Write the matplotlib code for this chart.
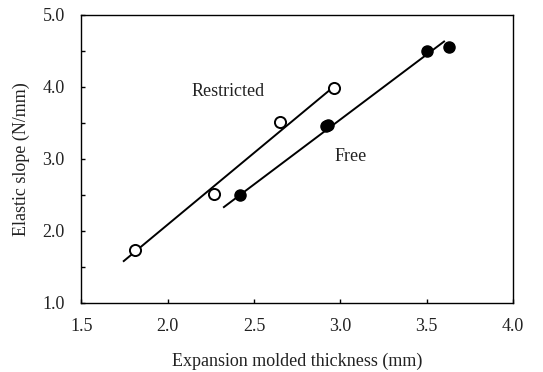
import matplotlib
matplotlib.use("Agg")
import matplotlib.pyplot as plt
from matplotlib.ticker import MultipleLocator

# Restricted (open circles)
restricted_x = [1.81, 2.27, 2.65, 2.96]
restricted_y = [1.73, 2.51, 3.51, 3.99]
restricted_line_x = [1.745, 2.94]
restricted_line_y = [1.58, 3.96]

# Free (filled circles)
free_x = [2.42, 2.915, 2.925, 3.50, 3.63]
free_y = [2.50, 3.45, 3.47, 4.50, 4.56]
free_line_x = [2.325, 3.60]
free_line_y = [2.33, 4.63]

plt.rcParams['font.family'] = ['Liberation Serif', 'DejaVu Serif']
fs = 13
txt = "#222222"

fig = plt.figure(figsize=(5.43, 3.72), dpi=100)
ax = fig.add_axes([0.150, 0.186, 0.795, 0.774])

ax.plot(restricted_line_x, restricted_line_y, color="black", lw=1.4)
ax.plot(free_line_x, free_line_y, color="black", lw=1.4)
ax.plot(restricted_x, restricted_y, "o", ms=8, mfc="white", mec="black", mew=1.4)
ax.plot(free_x, free_y, "o", ms=8, mfc="black", mec="black")

ax.text(2.35, 3.93, "Restricted", ha="center", va="center", fontsize=fs, color=txt)
ax.text(3.06, 3.03, "Free", ha="center", va="center", fontsize=fs, color=txt)

ax.set_xlim(1.5, 4.0)
ax.set_ylim(1.0, 5.0)
ax.xaxis.set_major_locator(MultipleLocator(0.5))
ax.yaxis.set_major_locator(MultipleLocator(1.0))
ax.yaxis.set_minor_locator(MultipleLocator(0.5))
ax.xaxis.set_major_formatter(plt.FormatStrFormatter('%.1f'))
ax.yaxis.set_major_formatter(plt.FormatStrFormatter('%.1f'))
ax.tick_params(which="both", direction="in", length=3, width=1, labelsize=fs,
               labelcolor=txt, top=False, right=False)
ax.tick_params(axis="x", pad=11)
ax.tick_params(axis="y", pad=12)
for s in ax.spines.values():
    s.set_linewidth(1.0)

ax.set_xlabel("Expansion molded thickness (mm)", fontsize=fs, labelpad=13, color=txt)
ax.set_ylabel("Elastic slope (N/mm)", fontsize=fs, labelpad=9, color=txt)

fig.savefig("out.png", dpi=100)
